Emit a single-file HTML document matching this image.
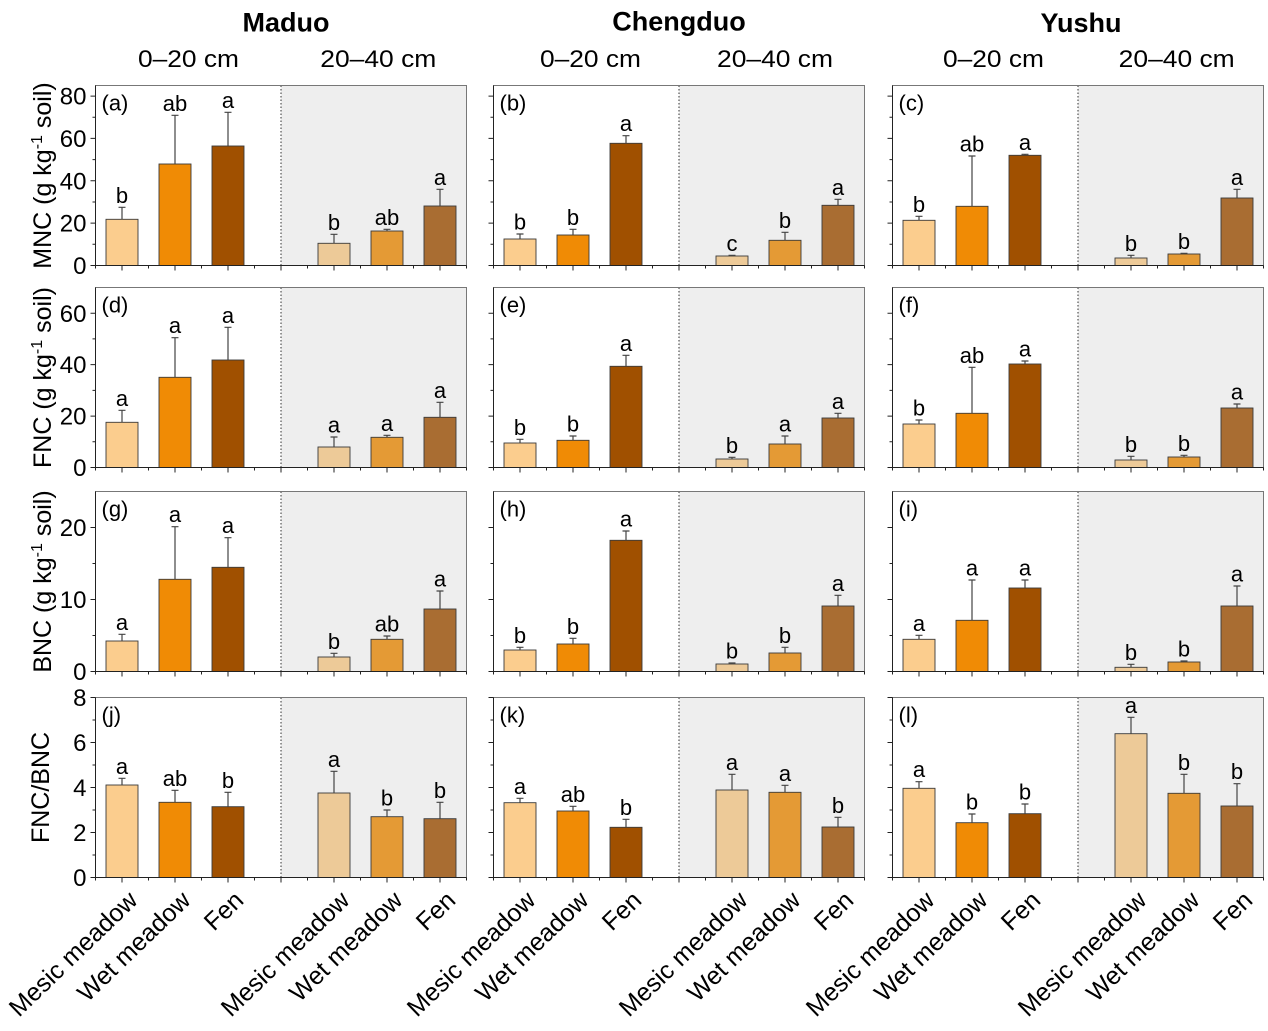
<!DOCTYPE html>
<html>
<head>
<meta charset="utf-8">
<style>
html,body{margin:0;padding:0;background:#fff;}
svg{display:block;}
text{font-family:"Liberation Sans",Arial,sans-serif;fill:#000;}
.b{stroke:#3a3a3a;stroke-width:0.9;}
.e{stroke:#444;stroke-width:1.2;fill:none;}
.lt{font-size:22px;text-anchor:middle;}
.pl{font-size:22px;}
.tk{font-size:24px;text-anchor:end;}
.xl{font-size:25px;text-anchor:end;}
.yl{font-size:25px;text-anchor:middle;}
.hd{font-size:27px;font-weight:bold;text-anchor:middle;}
.sh{font-size:24px;text-anchor:middle;}
</style>
</head>
<body>
<svg width="1268" height="1031" viewBox="0 0 1268 1031" xmlns="http://www.w3.org/2000/svg">
<defs>
  <path id="bt" d="M0,180v3 M26.5,180v5 M53,180v3 M79.5,180v5 M106,180v3 M132.5,180v5 M159,180v3 M185.5,180v5 M212,180v3 M238.5,180v5 M265,180v3 M291.5,180v5 M318,180v3 M344.5,180v5 M371,180v3" stroke="#222" stroke-width="1" fill="none"/>
  <path id="l1" d="M0,180h-5 M0,158.8h-3 M0,137.6h-5 M0,116.5h-3 M0,95.3h-5 M0,74.1h-3 M0,52.9h-5 M0,31.8h-3 M0,10.6h-5" stroke="#222" stroke-width="1" fill="none"/>
  <path id="l2" d="M0,180h-5 M0,154.3h-3 M0,128.6h-5 M0,102.9h-3 M0,77.1h-5 M0,51.4h-3 M0,25.7h-5" stroke="#222" stroke-width="1" fill="none"/>
  <path id="l3" d="M0,180h-5 M0,144h-3 M0,108h-5 M0,72h-3 M0,36h-5" stroke="#222" stroke-width="1" fill="none"/>
  <path id="l4" d="M0,180h-5 M0,157.5h-3 M0,135h-5 M0,112.5h-3 M0,90h-5 M0,67.5h-3 M0,45h-5 M0,22.5h-3 M0,0h-5" stroke="#222" stroke-width="1" fill="none"/>
  <g id="bg">
    <rect x="185.5" y="0" width="185.5" height="180" fill="#EEEEEE"/>
  </g>
  <g id="fr">
    <line x1="185.5" y1="0" x2="185.5" y2="180" stroke="#333" stroke-width="1" stroke-dasharray="1.5 2"/>
    <rect x="0" y="0" width="371" height="180" fill="none" stroke="#777" stroke-width="1"/>
    <path d="M0,0V180H371" stroke="#222" stroke-width="1" fill="none"/>
    <use href="#bt"/>
  </g>
</defs>

<!-- Headers -->
<text class="hd" x="286" y="31.5">Maduo</text>
<text class="hd" x="679" y="30.5">Chengduo</text>
<text class="hd" x="1081" y="32">Yushu</text>
<text class="sh" x="188.5" y="67" textLength="101" lengthAdjust="spacingAndGlyphs">0–20 cm</text>
<text class="sh" x="378.3" y="67" textLength="116" lengthAdjust="spacingAndGlyphs">20–40 cm</text>
<text class="sh" x="590.5" y="67" textLength="101" lengthAdjust="spacingAndGlyphs">0–20 cm</text>
<text class="sh" x="775" y="67" textLength="116" lengthAdjust="spacingAndGlyphs">20–40 cm</text>
<text class="sh" x="993.5" y="67" textLength="101" lengthAdjust="spacingAndGlyphs">0–20 cm</text>
<text class="sh" x="1176.7" y="67" textLength="116" lengthAdjust="spacingAndGlyphs">20–40 cm</text>

<!-- Y labels -->
<text class="yl" transform="translate(51,175.5) rotate(-90)">MNC (g kg<tspan dy="-9" font-size="16">-1</tspan><tspan dy="9"> soil)</tspan></text>
<text class="yl" transform="translate(51,377.5) rotate(-90)">FNC (g kg<tspan dy="-9" font-size="16">-1</tspan><tspan dy="9"> soil)</tspan></text>
<text class="yl" transform="translate(51,581.5) rotate(-90)">BNC (g kg<tspan dy="-9" font-size="16">-1</tspan><tspan dy="9"> soil)</tspan></text>
<text class="yl" transform="translate(49,787.5) rotate(-90)">FNC/BNC</text>

<!-- Panel a -->
<g transform="translate(95.5,85.5)">
  <use href="#bg"/>
  <rect class="b" x="10.5" y="133.8" width="32" height="46.2" fill="#FBCD8E"/>
  <rect class="b" x="63.5" y="78.5" width="32" height="101.5" fill="#F08B05"/>
  <rect class="b" x="116.5" y="60.5" width="32" height="119.5" fill="#A05000"/>
  <rect class="b" x="222.5" y="157.8" width="32" height="22.2" fill="#EDCA98"/>
  <rect class="b" x="275.5" y="145.5" width="32" height="34.5" fill="#E49A35"/>
  <rect class="b" x="328.5" y="120.5" width="32" height="59.5" fill="#A96D32"/>
  <path class="e" d="M26.5,133.8V121.8M23,121.8h7 M79.5,78.5V29.8M76,29.8h7 M132.5,60.5V26.8M129,26.8h7 M238.5,157.8V148.8M235,148.8h7 M291.5,145.5V143.8M288,143.8h7 M344.5,120.5V103.8M341,103.8h7"/>
  <text class="lt" x="26.5" y="117.3">b</text>
  <text class="lt" x="79.5" y="25.3">ab</text>
  <text class="lt" x="132.5" y="22.3">a</text>
  <text class="lt" x="238.5" y="144.3">b</text>
  <text class="lt" x="291.5" y="139.3">ab</text>
  <text class="lt" x="344.5" y="99.3">a</text>
  <use href="#fr"/>
  <use href="#l1"/>
  <text class="pl" x="6" y="25">(a)</text>
  <text class="tk" x="-9" y="188.6">0</text>
  <text class="tk" x="-9" y="146.2">20</text>
  <text class="tk" x="-9" y="103.9">40</text>
  <text class="tk" x="-9" y="61.5">60</text>
  <text class="tk" x="-9" y="19.2">80</text>
</g>

<!-- Panel b -->
<g transform="translate(493.5,85.5)">
  <use href="#bg"/>
  <rect class="b" x="10.5" y="153.5" width="32" height="26.5" fill="#FBCD8E"/>
  <rect class="b" x="63.5" y="149.5" width="32" height="30.5" fill="#F08B05"/>
  <rect class="b" x="116.5" y="57.8" width="32" height="122.2" fill="#A05000"/>
  <rect class="b" x="222.5" y="170.5" width="32" height="9.5" fill="#EDCA98"/>
  <rect class="b" x="275.5" y="154.8" width="32" height="25.2" fill="#E49A35"/>
  <rect class="b" x="328.5" y="119.8" width="32" height="60.2" fill="#A96D32"/>
  <path class="e" d="M26.5,153.5V148.5M23,148.5h7 M79.5,149.5V143.8M76,143.8h7 M132.5,57.8V50.2M129,50.2h7 M238.5,170.5V169.8M235,169.8h7 M291.5,154.8V146.8M288,146.8h7 M344.5,119.8V113.8M341,113.8h7"/>
  <text class="lt" x="26.5" y="144">b</text>
  <text class="lt" x="79.5" y="139.3">b</text>
  <text class="lt" x="132.5" y="45.7">a</text>
  <text class="lt" x="238.5" y="165.3">c</text>
  <text class="lt" x="291.5" y="142.3">b</text>
  <text class="lt" x="344.5" y="109.3">a</text>
  <use href="#fr"/>
  <use href="#l1"/>
  <text class="pl" x="6" y="25">(b)</text>
</g>

<!-- Panel c -->
<g transform="translate(892.5,85.5)">
  <use href="#bg"/>
  <rect class="b" x="10.5" y="134.8" width="32" height="45.2" fill="#FBCD8E"/>
  <rect class="b" x="63.5" y="120.8" width="32" height="59.2" fill="#F08B05"/>
  <rect class="b" x="116.5" y="69.8" width="32" height="110.2" fill="#A05000"/>
  <rect class="b" x="222.5" y="172.5" width="32" height="7.5" fill="#EDCA98"/>
  <rect class="b" x="275.5" y="168.5" width="32" height="11.5" fill="#E49A35"/>
  <rect class="b" x="328.5" y="112.5" width="32" height="67.5" fill="#A96D32"/>
  <path class="e" d="M26.5,134.8V130.8M23,130.8h7 M79.5,120.8V70.5M76,70.5h7 M132.5,69.8V68.8M129,68.8h7 M238.5,172.5V169.8M235,169.8h7 M291.5,168.5V167.8M288,167.8h7 M344.5,112.5V103.8M341,103.8h7"/>
  <text class="lt" x="26.5" y="126.3">b</text>
  <text class="lt" x="79.5" y="66">ab</text>
  <text class="lt" x="132.5" y="64.3">a</text>
  <text class="lt" x="238.5" y="165.3">b</text>
  <text class="lt" x="291.5" y="163.3">b</text>
  <text class="lt" x="344.5" y="99.3">a</text>
  <use href="#fr"/>
  <use href="#l1"/>
  <text class="pl" x="6" y="25">(c)</text>
</g>

<!-- Panel d -->
<g transform="translate(95.5,287.5)">
  <use href="#bg"/>
  <rect class="b" x="10.5" y="134.8" width="32" height="45.2" fill="#FBCD8E"/>
  <rect class="b" x="63.5" y="89.8" width="32" height="90.2" fill="#F08B05"/>
  <rect class="b" x="116.5" y="72.5" width="32" height="107.5" fill="#A05000"/>
  <rect class="b" x="222.5" y="159.5" width="32" height="20.5" fill="#EDCA98"/>
  <rect class="b" x="275.5" y="149.8" width="32" height="30.2" fill="#E49A35"/>
  <rect class="b" x="328.5" y="129.8" width="32" height="50.2" fill="#A96D32"/>
  <path class="e" d="M26.5,134.8V122.8M23,122.8h7 M79.5,89.8V50.2M76,50.2h7 M132.5,72.5V39.8M129,39.8h7 M238.5,159.5V149.5M235,149.5h7 M291.5,149.8V147.8M288,147.8h7 M344.5,129.8V114.8M341,114.8h7"/>
  <text class="lt" x="26.5" y="118.3">a</text>
  <text class="lt" x="79.5" y="45.7">a</text>
  <text class="lt" x="132.5" y="35.3">a</text>
  <text class="lt" x="238.5" y="145">a</text>
  <text class="lt" x="291.5" y="143.3">a</text>
  <text class="lt" x="344.5" y="110.3">a</text>
  <use href="#fr"/>
  <use href="#l2"/>
  <text class="pl" x="6" y="25">(d)</text>
  <text class="tk" x="-9" y="188.6">0</text>
  <text class="tk" x="-9" y="137.2">20</text>
  <text class="tk" x="-9" y="85.7">40</text>
  <text class="tk" x="-9" y="34.3">60</text>
</g>

<!-- Panel e -->
<g transform="translate(493.5,287.5)">
  <use href="#bg"/>
  <rect class="b" x="10.5" y="155.5" width="32" height="24.5" fill="#FBCD8E"/>
  <rect class="b" x="63.5" y="152.8" width="32" height="27.2" fill="#F08B05"/>
  <rect class="b" x="116.5" y="78.8" width="32" height="101.2" fill="#A05000"/>
  <rect class="b" x="222.5" y="171.5" width="32" height="8.5" fill="#EDCA98"/>
  <rect class="b" x="275.5" y="156.5" width="32" height="23.5" fill="#E49A35"/>
  <rect class="b" x="328.5" y="130.5" width="32" height="49.5" fill="#A96D32"/>
  <path class="e" d="M26.5,155.5V151.8M23,151.8h7 M79.5,152.8V148.5M76,148.5h7 M132.5,78.8V67.8M129,67.8h7 M238.5,171.5V169.8M235,169.8h7 M291.5,156.5V148.5M288,148.5h7 M344.5,130.5V125.8M341,125.8h7"/>
  <text class="lt" x="26.5" y="147.3">b</text>
  <text class="lt" x="79.5" y="144">b</text>
  <text class="lt" x="132.5" y="63.3">a</text>
  <text class="lt" x="238.5" y="165.3">b</text>
  <text class="lt" x="291.5" y="144">a</text>
  <text class="lt" x="344.5" y="121.3">a</text>
  <use href="#fr"/>
  <use href="#l2"/>
  <text class="pl" x="6" y="25">(e)</text>
</g>

<!-- Panel f -->
<g transform="translate(892.5,287.5)">
  <use href="#bg"/>
  <rect class="b" x="10.5" y="136.5" width="32" height="43.5" fill="#FBCD8E"/>
  <rect class="b" x="63.5" y="125.8" width="32" height="54.2" fill="#F08B05"/>
  <rect class="b" x="116.5" y="76.5" width="32" height="103.5" fill="#A05000"/>
  <rect class="b" x="222.5" y="172.5" width="32" height="7.5" fill="#EDCA98"/>
  <rect class="b" x="275.5" y="169.5" width="32" height="10.5" fill="#E49A35"/>
  <rect class="b" x="328.5" y="120.5" width="32" height="59.5" fill="#A96D32"/>
  <path class="e" d="M26.5,136.5V132.5M23,132.5h7 M79.5,125.8V79.8M76,79.8h7 M132.5,76.5V73.5M129,73.5h7 M238.5,172.5V168.8M235,168.8h7 M291.5,169.5V167.8M288,167.8h7 M344.5,120.5V116.5M341,116.5h7"/>
  <text class="lt" x="26.5" y="128">b</text>
  <text class="lt" x="79.5" y="75.3">ab</text>
  <text class="lt" x="132.5" y="69">a</text>
  <text class="lt" x="238.5" y="164.3">b</text>
  <text class="lt" x="291.5" y="163.3">b</text>
  <text class="lt" x="344.5" y="112">a</text>
  <use href="#fr"/>
  <use href="#l2"/>
  <text class="pl" x="6" y="25">(f)</text>
</g>

<!-- Panel g -->
<g transform="translate(95.5,491.5)">
  <use href="#bg"/>
  <rect class="b" x="10.5" y="149.5" width="32" height="30.5" fill="#FBCD8E"/>
  <rect class="b" x="63.5" y="87.8" width="32" height="92.2" fill="#F08B05"/>
  <rect class="b" x="116.5" y="75.8" width="32" height="104.2" fill="#A05000"/>
  <rect class="b" x="222.5" y="165.5" width="32" height="14.5" fill="#EDCA98"/>
  <rect class="b" x="275.5" y="147.8" width="32" height="32.2" fill="#E49A35"/>
  <rect class="b" x="328.5" y="117.5" width="32" height="62.5" fill="#A96D32"/>
  <path class="e" d="M26.5,149.5V142.8M23,142.8h7 M79.5,87.8V35.2M76,35.2h7 M132.5,75.8V46.2M129,46.2h7 M238.5,165.5V161.8M235,161.8h7 M291.5,147.8V144.5M288,144.5h7 M344.5,117.5V99.5M341,99.5h7"/>
  <text class="lt" x="26.5" y="138.3">a</text>
  <text class="lt" x="79.5" y="30.7">a</text>
  <text class="lt" x="132.5" y="41.7">a</text>
  <text class="lt" x="238.5" y="157.3">b</text>
  <text class="lt" x="291.5" y="140">ab</text>
  <text class="lt" x="344.5" y="95">a</text>
  <use href="#fr"/>
  <use href="#l3"/>
  <text class="pl" x="6" y="25">(g)</text>
  <text class="tk" x="-9" y="188.6">0</text>
  <text class="tk" x="-9" y="116.6">10</text>
  <text class="tk" x="-9" y="44.6">20</text>
</g>

<!-- Panel h -->
<g transform="translate(493.5,491.5)">
  <use href="#bg"/>
  <rect class="b" x="10.5" y="158.5" width="32" height="21.5" fill="#FBCD8E"/>
  <rect class="b" x="63.5" y="152.5" width="32" height="27.5" fill="#F08B05"/>
  <rect class="b" x="116.5" y="48.8" width="32" height="131.2" fill="#A05000"/>
  <rect class="b" x="222.5" y="172.5" width="32" height="7.5" fill="#EDCA98"/>
  <rect class="b" x="275.5" y="161.5" width="32" height="18.5" fill="#E49A35"/>
  <rect class="b" x="328.5" y="114.5" width="32" height="65.5" fill="#A96D32"/>
  <path class="e" d="M26.5,158.5V155.8M23,155.8h7 M79.5,152.5V146.8M76,146.8h7 M132.5,48.8V39.5M129,39.5h7 M238.5,172.5V171.5M235,171.5h7 M291.5,161.5V155.8M288,155.8h7 M344.5,114.5V103.8M341,103.8h7"/>
  <text class="lt" x="26.5" y="151.3">b</text>
  <text class="lt" x="79.5" y="142.3">b</text>
  <text class="lt" x="132.5" y="35">a</text>
  <text class="lt" x="238.5" y="167">b</text>
  <text class="lt" x="291.5" y="151.3">b</text>
  <text class="lt" x="344.5" y="99.3">a</text>
  <use href="#fr"/>
  <use href="#l3"/>
  <text class="pl" x="6" y="25">(h)</text>
</g>

<!-- Panel i -->
<g transform="translate(892.5,491.5)">
  <use href="#bg"/>
  <rect class="b" x="10.5" y="147.8" width="32" height="32.2" fill="#FBCD8E"/>
  <rect class="b" x="63.5" y="128.8" width="32" height="51.2" fill="#F08B05"/>
  <rect class="b" x="116.5" y="96.5" width="32" height="83.5" fill="#A05000"/>
  <rect class="b" x="222.5" y="175.8" width="32" height="4.2" fill="#EDCA98"/>
  <rect class="b" x="275.5" y="170.5" width="32" height="9.5" fill="#E49A35"/>
  <rect class="b" x="328.5" y="114.5" width="32" height="65.5" fill="#A96D32"/>
  <path class="e" d="M26.5,147.8V143.8M23,143.8h7 M79.5,128.8V88.5M76,88.5h7 M132.5,96.5V88.5M129,88.5h7 M238.5,175.8V172.8M235,172.8h7 M291.5,170.5V169.5M288,169.5h7 M344.5,114.5V94.5M341,94.5h7"/>
  <text class="lt" x="26.5" y="139.3">a</text>
  <text class="lt" x="79.5" y="84">a</text>
  <text class="lt" x="132.5" y="84">a</text>
  <text class="lt" x="238.5" y="168.3">b</text>
  <text class="lt" x="291.5" y="165">b</text>
  <text class="lt" x="344.5" y="90">a</text>
  <use href="#fr"/>
  <use href="#l3"/>
  <text class="pl" x="6" y="25">(i)</text>
</g>

<!-- Panel j -->
<g transform="translate(95.5,697.5)">
  <use href="#bg"/>
  <rect class="b" x="10.5" y="87.5" width="32" height="92.5" fill="#FBCD8E"/>
  <rect class="b" x="63.5" y="104.8" width="32" height="75.2" fill="#F08B05"/>
  <rect class="b" x="116.5" y="109.2" width="32" height="70.8" fill="#A05000"/>
  <rect class="b" x="222.5" y="95.5" width="32" height="84.5" fill="#EDCA98"/>
  <rect class="b" x="275.5" y="119.2" width="32" height="60.8" fill="#E49A35"/>
  <rect class="b" x="328.5" y="121.2" width="32" height="58.8" fill="#A96D32"/>
  <path class="e" d="M26.5,87.5V80.8M23,80.8h7 M79.5,104.8V92.8M76,92.8h7 M132.5,109.2V94.8M129,94.8h7 M238.5,95.5V73.8M235,73.8h7 M291.5,119.2V112.5M288,112.5h7 M344.5,121.2V104.8M341,104.8h7"/>
  <text class="lt" x="26.5" y="76.3">a</text>
  <text class="lt" x="79.5" y="88.3">ab</text>
  <text class="lt" x="132.5" y="90.3">b</text>
  <text class="lt" x="238.5" y="69.3">a</text>
  <text class="lt" x="291.5" y="108">b</text>
  <text class="lt" x="344.5" y="100.3">b</text>
  <use href="#fr"/>
  <use href="#l4"/>
  <text class="pl" x="6" y="25">(j)</text>
  <text class="tk" x="-9" y="188.6">0</text>
  <text class="tk" x="-9" y="143.6">2</text>
  <text class="tk" x="-9" y="98.6">4</text>
  <text class="tk" x="-9" y="53.6">6</text>
  <text class="tk" x="-9" y="8.6">8</text>
</g>

<!-- Panel k -->
<g transform="translate(493.5,697.5)">
  <use href="#bg"/>
  <rect class="b" x="10.5" y="105.2" width="32" height="74.8" fill="#FBCD8E"/>
  <rect class="b" x="63.5" y="113.5" width="32" height="66.5" fill="#F08B05"/>
  <rect class="b" x="116.5" y="129.8" width="32" height="50.2" fill="#A05000"/>
  <rect class="b" x="222.5" y="92.5" width="32" height="87.5" fill="#EDCA98"/>
  <rect class="b" x="275.5" y="94.8" width="32" height="85.2" fill="#E49A35"/>
  <rect class="b" x="328.5" y="129.5" width="32" height="50.5" fill="#A96D32"/>
  <path class="e" d="M26.5,105.2V100.8M23,100.8h7 M79.5,113.5V108.8M76,108.8h7 M132.5,129.8V121.8M129,121.8h7 M238.5,92.5V76.8M235,76.8h7 M291.5,94.8V87.8M288,87.8h7 M344.5,129.5V119.8M341,119.8h7"/>
  <text class="lt" x="26.5" y="96.3">a</text>
  <text class="lt" x="79.5" y="104.3">ab</text>
  <text class="lt" x="132.5" y="117.3">b</text>
  <text class="lt" x="238.5" y="72.3">a</text>
  <text class="lt" x="291.5" y="83.3">a</text>
  <text class="lt" x="344.5" y="115.3">b</text>
  <use href="#fr"/>
  <use href="#l4"/>
  <text class="pl" x="6" y="25">(k)</text>
</g>

<!-- Panel l -->
<g transform="translate(892.5,697.5)">
  <use href="#bg"/>
  <rect class="b" x="10.5" y="90.8" width="32" height="89.2" fill="#FBCD8E"/>
  <rect class="b" x="63.5" y="125.2" width="32" height="54.8" fill="#F08B05"/>
  <rect class="b" x="116.5" y="116.2" width="32" height="63.8" fill="#A05000"/>
  <rect class="b" x="222.5" y="36.2" width="32" height="143.8" fill="#EDCA98"/>
  <rect class="b" x="275.5" y="95.8" width="32" height="84.2" fill="#E49A35"/>
  <rect class="b" x="328.5" y="108.5" width="32" height="71.5" fill="#A96D32"/>
  <path class="e" d="M26.5,90.8V84.2M23,84.2h7 M79.5,125.2V116.5M76,116.5h7 M132.5,116.2V106.5M129,106.5h7 M238.5,36.2V19.8M235,19.8h7 M291.5,95.8V76.8M288,76.8h7 M344.5,108.5V86.2M341,86.2h7"/>
  <text class="lt" x="26.5" y="79.7">a</text>
  <text class="lt" x="79.5" y="112">b</text>
  <text class="lt" x="132.5" y="102">b</text>
  <text class="lt" x="238.5" y="15.3">a</text>
  <text class="lt" x="291.5" y="72.3">b</text>
  <text class="lt" x="344.5" y="81.7">b</text>
  <use href="#fr"/>
  <use href="#l4"/>
  <text class="pl" x="6" y="25">(l)</text>
</g>

<!-- X category labels -->
<text class="xl" transform="translate(139,902) rotate(-44)">Mesic meadow</text>
<text class="xl" transform="translate(192,902) rotate(-44)">Wet meadow</text>
<text class="xl" transform="translate(245,902) rotate(-44)">Fen</text>
<text class="xl" transform="translate(351,902) rotate(-44)">Mesic meadow</text>
<text class="xl" transform="translate(404,902) rotate(-44)">Wet meadow</text>
<text class="xl" transform="translate(457,902) rotate(-44)">Fen</text>

<text class="xl" transform="translate(537,902) rotate(-44)">Mesic meadow</text>
<text class="xl" transform="translate(590,902) rotate(-44)">Wet meadow</text>
<text class="xl" transform="translate(643,902) rotate(-44)">Fen</text>
<text class="xl" transform="translate(749,902) rotate(-44)">Mesic meadow</text>
<text class="xl" transform="translate(802,902) rotate(-44)">Wet meadow</text>
<text class="xl" transform="translate(855,902) rotate(-44)">Fen</text>

<text class="xl" transform="translate(936,902) rotate(-44)">Mesic meadow</text>
<text class="xl" transform="translate(989,902) rotate(-44)">Wet meadow</text>
<text class="xl" transform="translate(1042,902) rotate(-44)">Fen</text>
<text class="xl" transform="translate(1148,902) rotate(-44)">Mesic meadow</text>
<text class="xl" transform="translate(1201,902) rotate(-44)">Wet meadow</text>
<text class="xl" transform="translate(1254,902) rotate(-44)">Fen</text>
</svg>
</body>
</html>
